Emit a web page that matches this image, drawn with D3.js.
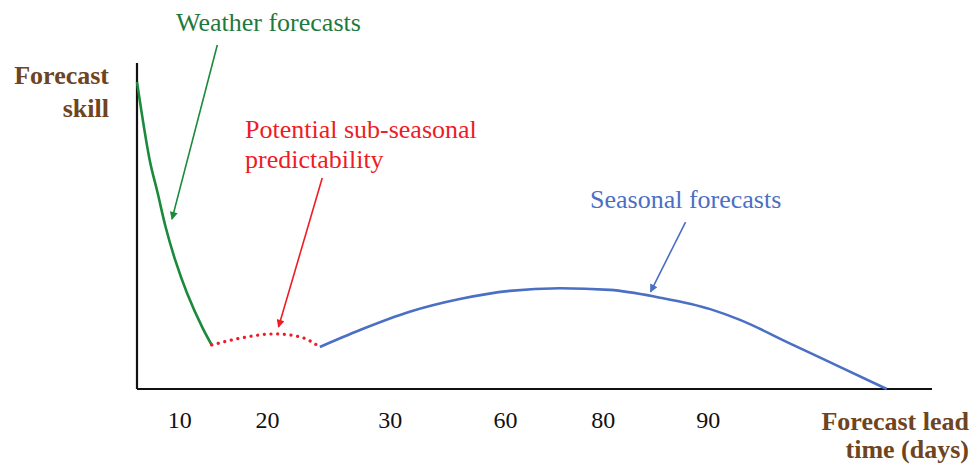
<!DOCTYPE html>
<html>
<head>
<meta charset="utf-8">
<script src="https://cdn.jsdelivr.net/npm/d3@7"></script>
<style>
  html, body { margin: 0; padding: 0; background: #fff; }
  svg text { font-family: "Liberation Serif", "Times New Roman", serif; }
</style>
</head>
<body>
<svg id="chart" width="977" height="465"></svg>
<script>
// ---- data (abstract units: x = relative lead position 0-100, y = skill 0-100) ----
const tickLabels = ["10", "20", "30", "60", "80", "90"];
const tickPositions = [5.3, 16.35, 31.8, 46.3, 58.6, 71.8];

const weatherX = [0, 1.6, 2.6, 3.6, 4.8, 6.3, 8.2, 9.4];
const weatherY = [94.2, 70.2, 60.1, 49.7, 39.6, 29.4, 19.0, 13.5];

const subseasonalX = [9.4, 13.0, 17.4, 20.5, 23.0];
const subseasonalY = [13.5, 15.6, 16.9, 16.0, 12.9];

const seasonalX = [23.0, 28.05, 34.3, 40.6, 46.9, 53.2, 59.5, 65.8, 72.1, 75.85, 82.1, 88.4, 94.3];
const seasonalY = [12.9, 18.1, 23.7, 27.6, 30.1, 30.9, 30.4, 28.0, 24.5, 21.2, 14.0, 6.8, 0];

// annotation arrows: [fromX, fromY, toX, toY]
const weatherArrow = [10.1, 105.5, 4.4, 52.1];
const subseasonalArrow = [23.3, 64.7, 17.8, 19.0];
const seasonalArrow = [69.0, 51.2, 64.6, 29.8];

const weatherLabel = ["Weather forecasts"];
const subseasonalLabel = ["Potential sub-seasonal", "predictability"];
const seasonalLabel = ["Seasonal forecasts"];
const yTitle = ["Forecast", "skill"];
const xTitle = ["Forecast lead", "time (days)"];

// ---- drawing ----
const svg = d3.select("#chart");
const x = d3.scaleLinear().domain([0, 100]).range([137, 932]);
const y = d3.scaleLinear().domain([0, 100]).range([389, 63]);

const green = "#1b8a3c", red = "#ee1c25", blue = "#4a6fc4", brown = "#6e4421";
const greenText = "#1d7a3e";

// arrow markers
const defs = svg.append("defs");
function marker(id, color) {
  defs.append("marker")
    .attr("id", id)
    .attr("viewBox", "0 0 10 10")
    .attr("refX", 9).attr("refY", 5)
    .attr("markerWidth", 10).attr("markerHeight", 8)
    .attr("markerUnits", "userSpaceOnUse")
    .attr("orient", "auto")
    .append("path").attr("d", "M0,0 L10,5 L0,10 Z").attr("fill", color);
}
marker("ag", green); marker("ar", red); marker("ab", blue);

// axes (lines only, no ticks)
const xAxis = d3.axisBottom(x).tickValues(tickPositions)
  .tickFormat((d, i) => tickLabels[i]).tickSize(0).tickPadding(26);
const gx = svg.append("g").attr("transform", `translate(0,${y(0)})`).call(xAxis);
gx.select(".domain").attr("stroke", "#111").attr("stroke-width", 2.2).attr("d", `M${x(0)},0H${x(100)}`);
gx.selectAll("text").attr("fill", "#111").attr("font-size", 24)
  .attr("dy", "0.71em").attr("y", 22);

const yAxis = d3.axisLeft(y).tickValues([]).tickSize(0);
const gy = svg.append("g").attr("transform", `translate(${x(0)},0)`).call(yAxis);
gy.select(".domain").attr("stroke", "#111").attr("stroke-width", 2.2).attr("d", `M0,${y(0)}V${y(100)}`);

// curves
const zip = (a, b) => a.map((v, i) => [v, b[i]]);
const lineMono = d3.line().x(d => x(d[0])).y(d => y(d[1])).curve(d3.curveMonotoneX);
const lineCR = d3.line().x(d => x(d[0])).y(d => y(d[1])).curve(d3.curveCatmullRom.alpha(0.5));

svg.append("path").datum(zip(weatherX, weatherY)).attr("d", lineCR)
  .attr("fill", "none").attr("stroke", green).attr("stroke-width", 2.6);
svg.append("path").datum(zip(subseasonalX, subseasonalY)).attr("d", lineMono)
  .attr("fill", "none").attr("stroke", red).attr("stroke-width", 3.2)
  .attr("stroke-linecap", "round").attr("stroke-dasharray", "0.1 6.6");
svg.append("path").datum(zip(seasonalX, seasonalY)).attr("d", lineMono)
  .attr("fill", "none").attr("stroke", blue).attr("stroke-width", 2.6);

// annotation arrows
function arrow(a, color, id) {
  svg.append("line")
    .attr("x1", x(a[0])).attr("y1", y(a[1]))
    .attr("x2", x(a[2])).attr("y2", y(a[3]))
    .attr("stroke", color).attr("stroke-width", 1.6)
    .attr("marker-end", `url(#${id})`);
}
arrow(weatherArrow, green, "ag");
arrow(subseasonalArrow, red, "ar");
arrow(seasonalArrow, blue, "ab");

// labels
function label(lines, px, py, color, anchor, weight, lh) {
  const t = svg.append("text").attr("x", px).attr("y", py)
    .attr("fill", color).attr("font-size", 26).attr("text-anchor", anchor)
    .attr("font-weight", weight);
  lines.forEach((s, i) => t.append("tspan").attr("x", px).attr("dy", i === 0 ? 0 : lh).text(s));
}
label(weatherLabel, 176, 31, greenText, "start", "normal", 30);
label(subseasonalLabel, 245, 138, red, "start", "normal", 30);
label(seasonalLabel, 590, 208, blue, "start", "normal", 30);
label(yTitle, 109, 84, brown, "end", "bold", 33);
label(xTitle, 969, 430, brown, "end", "bold", 28);
</script>
</body>
</html>
